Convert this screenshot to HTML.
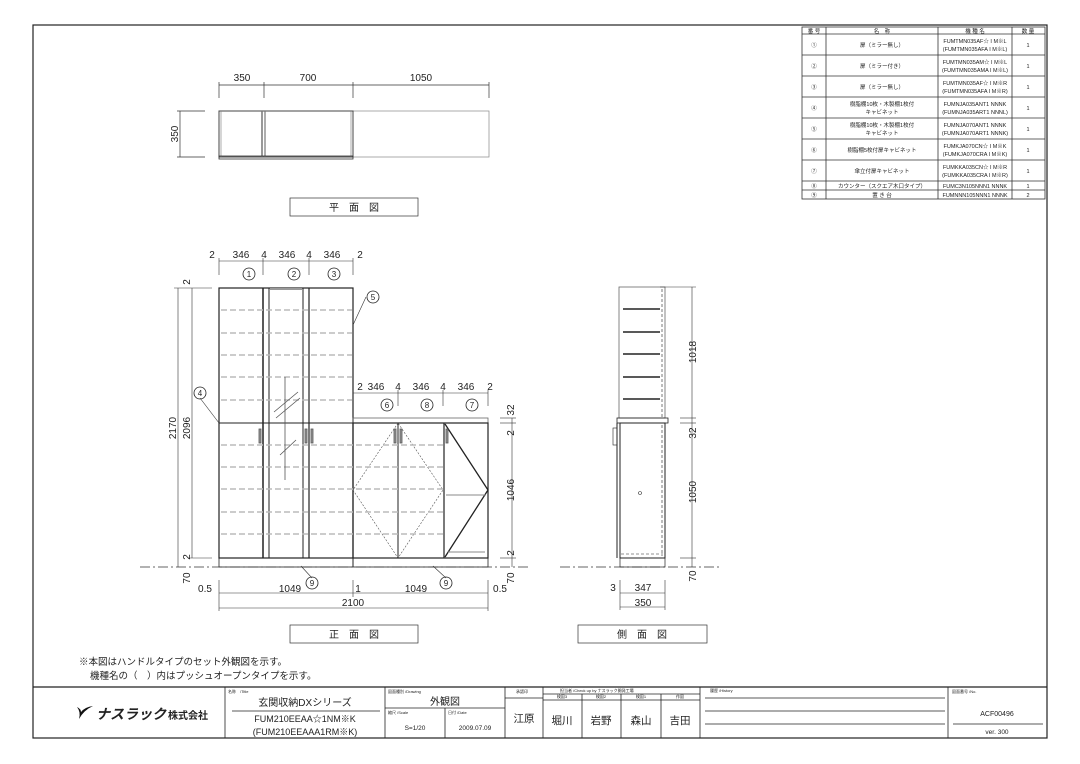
<!DOCTYPE html>
<html><head><meta charset="utf-8"><style>
html,body{margin:0;padding:0;background:#fff;}
svg{display:block;}
text{font-family:"Liberation Sans","Noto Sans CJK JP",sans-serif;fill:#222;}
</style></head><body>
<svg width="1080" height="764" viewBox="0 0 1080 764" xmlns="http://www.w3.org/2000/svg">
<rect x="0" y="0" width="1080" height="764" fill="#fff"/>
<!-- frame -->
<rect x="33" y="25" width="1014" height="713" fill="none" stroke="#222" stroke-width="1.2"/>

<!-- parts table -->
<g stroke="#333" stroke-width="0.8" fill="none">
<rect x="802" y="27" width="243" height="172"/>
<line x1="826" y1="27" x2="826" y2="199"/><line x1="938" y1="27" x2="938" y2="199"/><line x1="1012" y1="27" x2="1012" y2="199"/>
<line x1="802" y1="34" x2="1045" y2="34"/><line x1="802" y1="55" x2="1045" y2="55"/><line x1="802" y1="76" x2="1045" y2="76"/><line x1="802" y1="97" x2="1045" y2="97"/><line x1="802" y1="118" x2="1045" y2="118"/><line x1="802" y1="139" x2="1045" y2="139"/><line x1="802" y1="160" x2="1045" y2="160"/><line x1="802" y1="181" x2="1045" y2="181"/><line x1="802" y1="190" x2="1045" y2="190"/>
</g>
<g font-size="5.5" text-anchor="middle">
<text x="814" y="33">番 号</text><text x="882" y="33">名　称</text><text x="975" y="33">機 種 名</text><text x="1028" y="33">数 量</text>
<text x="814" y="47">①</text><text x="882" y="47">扉（ミラー無し）</text><text x="975" y="43">FUMTMN035AF☆ I M※L</text><text x="975" y="51">(FUMTMN035AFA I M※L)</text><text x="1028" y="47">1</text>
<text x="814" y="68">②</text><text x="882" y="68">扉（ミラー付き）</text><text x="975" y="64">FUMTMN035AM☆ I M※L</text><text x="975" y="72">(FUMTMN035AMA I M※L)</text><text x="1028" y="68">1</text>
<text x="814" y="89">③</text><text x="882" y="89">扉（ミラー無し）</text><text x="975" y="85">FUMTMN035AF☆ I M※R</text><text x="975" y="93">(FUMTMN035AFA I M※R)</text><text x="1028" y="89">1</text>
<text x="814" y="110">④</text><text x="882" y="106">樹脂棚10枚・木製棚1枚付</text><text x="882" y="114">キャビネット</text><text x="975" y="106">FUMNJA035ANT1 NNNK</text><text x="975" y="114">(FUMNJA035ART1 NNNL)</text><text x="1028" y="110">1</text>
<text x="814" y="131">⑤</text><text x="882" y="127">樹脂棚10枚・木製棚1枚付</text><text x="882" y="135">キャビネット</text><text x="975" y="127">FUMNJA070ANT1 NNNK</text><text x="975" y="135">(FUMNJA070ART1 NNNK)</text><text x="1028" y="131">1</text>
<text x="814" y="152">⑥</text><text x="882" y="152">樹脂棚5枚付扉キャビネット</text><text x="975" y="148">FUMKJA070CN☆ I M※K</text><text x="975" y="156">(FUMKJA070CRA I M※K)</text><text x="1028" y="152">1</text>
<text x="814" y="173">⑦</text><text x="882" y="173">傘立付扉キャビネット</text><text x="975" y="169">FUMKKA035CN☆ I M※R</text><text x="975" y="177">(FUMKKA035CRA I M※R)</text><text x="1028" y="173">1</text>
<text x="814" y="188">⑧</text><text x="882" y="188">カウンター（スクエア木口タイプ）</text><text x="975" y="188">FUMC3N105NNN1 NNNK</text><text x="1028" y="188">1</text>
<text x="814" y="197">⑨</text><text x="882" y="197">置 き 台</text><text x="975" y="197">FUMNNN105NNN1 NNNK</text><text x="1028" y="197">2</text>
</g>

<!-- plan view -->
<g stroke="#333" stroke-width="0.7" fill="none">
<line x1="219" y1="85" x2="489" y2="85"/>
<line x1="219" y1="82" x2="219" y2="98"/><line x1="264" y1="82" x2="264" y2="98"/><line x1="353" y1="82" x2="353" y2="98"/><line x1="489" y1="82" x2="489" y2="98"/>
<line x1="180" y1="111" x2="180" y2="157"/><line x1="177" y1="111" x2="205" y2="111"/><line x1="177" y1="157" x2="205" y2="157"/>
<rect x="353" y="111" width="136" height="46" stroke="#888"/>
<rect x="219" y="111" width="134" height="46" stroke="#444" stroke-width="1"/>
<line x1="262" y1="111" x2="262" y2="157" stroke-width="1.5" stroke="#777"/><line x1="265" y1="111" x2="265" y2="157" stroke-width="1.2" stroke="#777"/>
<line x1="221" y1="111" x2="221" y2="157" stroke="#888"/><line x1="351" y1="111" x2="351" y2="157" stroke="#888"/>
<rect x="219" y="156" width="134" height="3" stroke-width="0.8"/>
<rect x="290" y="198" width="128" height="18"/>
</g>
<g font-size="10" text-anchor="middle">
<text x="242" y="81">350</text><text x="308" y="81">700</text><text x="421" y="81">1050</text>
<text x="0" y="0" transform="translate(178,134) rotate(-90)">350</text>
<text x="354" y="211" font-size="10">平　面　図</text>
</g>

<!-- front view -->
<g stroke="#222" fill="none">
<!-- tall unit -->
<rect x="219" y="288" width="134" height="270" stroke-width="1.2"/>
<line x1="263" y1="288" x2="263" y2="558" stroke-width="1.5"/>
<line x1="269" y1="288" x2="269" y2="558" stroke-width="1"/>
<line x1="303" y1="288" x2="303" y2="558" stroke-width="1"/>
<line x1="309" y1="288" x2="309" y2="558" stroke-width="1.2"/>
<line x1="219" y1="423" x2="353" y2="423" stroke-width="1"/>
<line x1="270" y1="289" x2="302" y2="289" stroke="#999" stroke-width="2"/>
<!-- low unit -->
<rect x="353" y="418" width="135" height="5" stroke-width="0.8" stroke="#666"/>
<rect x="353" y="423" width="135" height="135" stroke-width="1.2"/>
<line x1="398" y1="423" x2="398" y2="558" stroke-width="1"/>
<line x1="444" y1="423" x2="444" y2="558" stroke-width="1.2"/>
<polyline points="398,423 353,490 398,558 443,490 398,423" stroke-width="0.6" stroke-dasharray="2,1.5" stroke="#555"/>
<polyline points="445,424 488,490 445,557" stroke-width="1.3"/>
<line x1="446" y1="495" x2="486" y2="495" stroke="#888"/>
<line x1="448" y1="552" x2="485" y2="552" stroke="#888"/>
<!-- base -->
<rect x="219" y="558" width="269" height="9" stroke-width="0.8"/>
<line x1="353" y1="558" x2="353" y2="567" stroke-width="1"/>
</g>
<g stroke="#bbb" stroke-width="1.5" stroke-dasharray="6,3">
<line x1="221" y1="310" x2="352" y2="310"/><line x1="221" y1="333" x2="352" y2="333"/><line x1="221" y1="355" x2="352" y2="355"/><line x1="221" y1="377" x2="352" y2="377"/><line x1="221" y1="400" x2="352" y2="400"/>
<line x1="221" y1="445" x2="443" y2="445"/><line x1="221" y1="467" x2="443" y2="467"/><line x1="221" y1="489" x2="443" y2="489"/><line x1="221" y1="512" x2="443" y2="512"/><line x1="221" y1="534" x2="443" y2="534"/>
</g>
<!-- mirror hatches & handles -->
<g stroke="#555" stroke-width="0.8" fill="none">
<line x1="285" y1="377" x2="285" y2="480"/><line x1="274" y1="412" x2="298" y2="392"/><line x1="276" y1="418" x2="300" y2="398"/><line x1="280" y1="455" x2="296" y2="440"/>
<rect x="259" y="429" width="2" height="14" fill="#999"/><rect x="305" y="429" width="2" height="14" fill="#999"/><rect x="311" y="429" width="2" height="14" fill="#999"/><rect x="394" y="429" width="2" height="14" fill="#999"/><rect x="400" y="429" width="2" height="14" fill="#999"/><rect x="446" y="429" width="2" height="14" fill="#999"/>
</g>
<!-- ground line -->
<line x1="140" y1="567" x2="530" y2="567" stroke="#333" stroke-width="0.8" stroke-dasharray="10,3,2,3"/>
<line x1="560" y1="567" x2="720" y2="567" stroke="#333" stroke-width="0.8" stroke-dasharray="10,3,2,3"/>
<!-- front dims -->
<g stroke="#333" stroke-width="0.6" fill="none">
<line x1="219" y1="261" x2="353" y2="261"/>
<line x1="219" y1="258" x2="219" y2="275"/><line x1="263" y1="258" x2="263" y2="275"/><line x1="309" y1="258" x2="309" y2="275"/><line x1="353" y1="258" x2="353" y2="275"/>
<line x1="353" y1="393" x2="488" y2="393"/>
<line x1="353" y1="390" x2="353" y2="400"/><line x1="398" y1="390" x2="398" y2="406"/><line x1="443" y1="390" x2="443" y2="406"/><line x1="488" y1="390" x2="488" y2="406"/>
<line x1="178" y1="288" x2="178" y2="567"/><line x1="192" y1="288" x2="192" y2="558"/>
<line x1="174" y1="288" x2="212" y2="288"/><line x1="188" y1="558" x2="212" y2="558"/>
<line x1="512" y1="418" x2="512" y2="567"/><line x1="500" y1="418" x2="516" y2="418"/><line x1="500" y1="423" x2="516" y2="423"/><line x1="500" y1="558" x2="516" y2="558"/>
<line x1="219" y1="593" x2="488" y2="593"/><line x1="219" y1="608" x2="488" y2="608"/>
<line x1="219" y1="580" x2="219" y2="611"/><line x1="353" y1="580" x2="353" y2="597"/><line x1="488" y1="580" x2="488" y2="611"/>
<line x1="366" y1="297" x2="353" y2="325"/><line x1="200" y1="398" x2="219" y2="423"/>
<line x1="312" y1="578" x2="301" y2="566"/><line x1="446" y1="578" x2="433" y2="566"/>
</g>
<g fill="none" stroke="#222" stroke-width="0.8">
<circle cx="249" cy="274" r="6"/><circle cx="294" cy="274" r="6"/><circle cx="334" cy="274" r="6"/><circle cx="373" cy="297" r="6"/><circle cx="200" cy="393" r="6"/><circle cx="387" cy="405" r="6"/><circle cx="427" cy="405" r="6"/><circle cx="472" cy="405" r="6"/><circle cx="312" cy="583" r="6"/><circle cx="446" cy="583" r="6"/>
</g>
<g font-size="8" text-anchor="middle">
<text x="249" y="277">1</text><text x="294" y="277">2</text><text x="334" y="277">3</text><text x="373" y="300">5</text><text x="200" y="396">4</text><text x="387" y="408">6</text><text x="427" y="408">8</text><text x="472" y="408">7</text><text x="312" y="586">9</text><text x="446" y="586">9</text>
</g>
<g font-size="10" text-anchor="middle">
<text x="212" y="258">2</text><text x="241" y="258">346</text><text x="264" y="258">4</text><text x="287" y="258">346</text><text x="309" y="258">4</text><text x="332" y="258">346</text><text x="360" y="258">2</text>
<text x="360" y="390">2</text><text x="376" y="390">346</text><text x="398" y="390">4</text><text x="421" y="390">346</text><text x="443" y="390">4</text><text x="466" y="390">346</text><text x="490" y="390">2</text>
<text x="205" y="592">0.5</text><text x="290" y="592">1049</text><text x="358" y="592">1</text><text x="416" y="592">1049</text><text x="500" y="592">0.5</text>
<text x="353" y="606">2100</text>
<text transform="translate(176,428) rotate(-90)">2170</text><text transform="translate(190,428) rotate(-90)">2096</text>
<text transform="translate(190,282) rotate(-90)">2</text><text transform="translate(190,557) rotate(-90)">2</text><text transform="translate(190,578) rotate(-90)">70</text>
<text transform="translate(514,410) rotate(-90)">32</text><text transform="translate(514,433) rotate(-90)">2</text><text transform="translate(514,490) rotate(-90)">1046</text><text transform="translate(514,553) rotate(-90)">2</text><text transform="translate(514,578) rotate(-90)">70</text>
</g>
<rect x="290" y="625" width="128" height="18" fill="none" stroke="#333" stroke-width="0.7"/>
<text x="354" y="638" font-size="10" text-anchor="middle">正　面　図</text>

<!-- side view -->
<g stroke="#222" fill="none">
<rect x="619" y="287" width="46" height="131" stroke-width="0.8" stroke="#666"/>
<line x1="662" y1="289" x2="662" y2="418" stroke-dasharray="3,2" stroke-width="0.6"/>
<rect x="617" y="418" width="51" height="5" stroke-width="0.8"/>
<rect x="620" y="423" width="45" height="135" stroke-width="1"/>
<line x1="617" y1="423" x2="617" y2="558" stroke-width="1"/>
<rect x="613" y="428" width="4" height="17" stroke-width="0.6"/>
<line x1="662" y1="425" x2="662" y2="556" stroke-dasharray="3,2" stroke-width="0.6"/>
<line x1="621" y1="554" x2="663" y2="554" stroke-dasharray="3,2" stroke-width="0.6"/>
<rect x="620" y="558" width="45" height="9" stroke-width="0.7"/>
</g>
<g stroke="#222" stroke-width="1.6">
<line x1="623" y1="309" x2="660" y2="309"/><line x1="623" y1="332" x2="660" y2="332"/><line x1="623" y1="354" x2="660" y2="354"/><line x1="623" y1="377" x2="660" y2="377"/><line x1="623" y1="399" x2="660" y2="399"/>
</g>
<circle cx="640" cy="493" r="1.5" fill="none" stroke="#333" stroke-width="0.6"/>
<g stroke="#333" stroke-width="0.6" fill="none">
<line x1="692" y1="287" x2="692" y2="567"/><line x1="680" y1="418" x2="696" y2="418"/><line x1="680" y1="423" x2="696" y2="423"/><line x1="680" y1="558" x2="696" y2="558"/><line x1="660" y1="287" x2="696" y2="287"/>
<line x1="620" y1="593" x2="665" y2="593"/><line x1="620" y1="607" x2="665" y2="607"/><line x1="620" y1="580" x2="620" y2="610"/><line x1="665" y1="580" x2="665" y2="610"/>
</g>
<g font-size="10" text-anchor="middle">
<text transform="translate(696,352) rotate(-90)">1018</text><text transform="translate(696,433) rotate(-90)">32</text><text transform="translate(696,492) rotate(-90)">1050</text><text transform="translate(696,576) rotate(-90)">70</text>
<text x="613" y="591">3</text><text x="643" y="591">347</text><text x="643" y="606">350</text>
</g>
<rect x="578" y="625" width="129" height="18" fill="none" stroke="#333" stroke-width="0.7"/>
<text x="642" y="638" font-size="10" text-anchor="middle">側　面　図</text>

<!-- notes -->
<text x="79" y="665" font-size="9.5">※本図はハンドルタイプのセット外観図を示す。</text>
<text x="90" y="679" font-size="9.5">機種名の（　）内はプッシュオープンタイプを示す。</text>

<!-- title block -->
<g stroke="#222" fill="none" stroke-width="0.8">
<line x1="33" y1="687" x2="1047" y2="687" stroke-width="1.2"/>
<line x1="225" y1="687" x2="225" y2="738"/><line x1="385" y1="687" x2="385" y2="738"/><line x1="505" y1="687" x2="505" y2="738"/><line x1="543" y1="687" x2="543" y2="738"/><line x1="700" y1="687" x2="700" y2="738"/><line x1="948" y1="687" x2="948" y2="738"/>
<line x1="232" y1="711" x2="380" y2="711"/>
<line x1="385" y1="708" x2="505" y2="708"/><line x1="445" y1="708" x2="445" y2="738"/>
<line x1="505" y1="698" x2="543" y2="698"/>
<line x1="543" y1="694" x2="700" y2="694"/><line x1="543" y1="700" x2="700" y2="700"/>
<line x1="582" y1="694" x2="582" y2="738"/><line x1="621" y1="694" x2="621" y2="738"/><line x1="661" y1="694" x2="661" y2="738"/>
<line x1="705" y1="698" x2="945" y2="698"/><line x1="705" y1="711" x2="945" y2="711"/><line x1="705" y1="724" x2="945" y2="724"/>
<line x1="953" y1="724" x2="1043" y2="724"/>
</g>
<g font-size="4" fill="#555">
<text x="228" y="693">名称　/Title</text><text x="388" y="693">図面種別 /Drawing</text><text x="388" y="714">縮尺 /Scale</text><text x="448" y="714">日付 /Date</text><text x="522" y="693" text-anchor="middle">承認印</text><text x="560" y="692">担当者 /Check up by ナスラック開発工場</text><text x="710" y="692">履歴 /History</text><text x="952" y="693">図面番号 /No.</text>
<text x="562" y="698" text-anchor="middle">検図3</text><text x="601" y="698" text-anchor="middle">検図2</text><text x="641" y="698" text-anchor="middle">検図1</text><text x="680" y="698" text-anchor="middle">作図</text>
</g>
<text x="305" y="706" font-size="10" text-anchor="middle">玄関収納DXシリーズ</text>
<text x="305" y="722" font-size="9" text-anchor="middle">FUM210EEAA☆1NM※K</text>
<text x="305" y="735" font-size="9" text-anchor="middle">(FUM210EEAAA1RM※K)</text>
<text x="445" y="705" font-size="10" text-anchor="middle">外観図</text>
<text x="415" y="730" font-size="6.5" text-anchor="middle">S=1/20</text>
<text x="475" y="730" font-size="6.5" text-anchor="middle">2009.07.09</text>
<text x="524" y="722" font-size="10.5" text-anchor="middle">江原</text>
<text x="562" y="724" font-size="10.5" text-anchor="middle">堀川</text><text x="601" y="724" font-size="10.5" text-anchor="middle">岩野</text><text x="641" y="724" font-size="10.5" text-anchor="middle">森山</text><text x="680" y="724" font-size="10.5" text-anchor="middle">吉田</text>
<text x="997" y="716" font-size="7" text-anchor="middle">ACF00496</text>
<text x="997" y="734" font-size="6.5" text-anchor="middle">ver. 300</text>
<!-- logo -->
<path d="M77 707 q4 5 2 12 q5 -9 14 -13 q-8 1 -12 6 q0 -3 -4 -5z" fill="#111"/>
<text x="96" y="719" font-size="14" font-weight="bold" font-style="italic" fill="#111">ナスラック</text><text x="168" y="719" font-size="10" font-weight="bold" fill="#111">株式会社</text>
</svg>
</body></html>
